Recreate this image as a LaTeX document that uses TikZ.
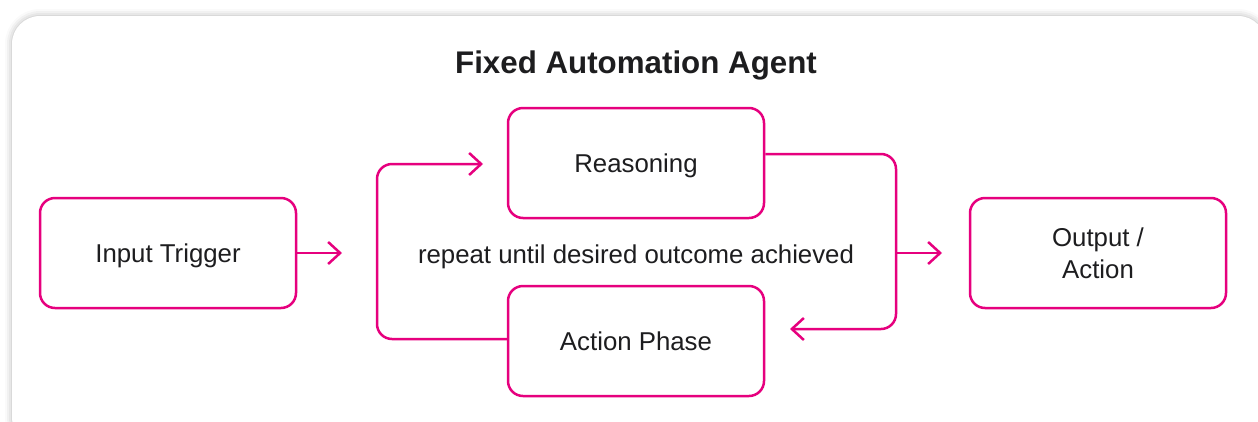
\documentclass[tikz,border=0pt]{standalone}
\usepackage{fontspec}
\setmainfont{Liberation Sans}
\usetikzlibrary{arrows.meta,shadows.blur}
\definecolor{mag}{RGB}{230,0,126}
\definecolor{ink}{RGB}{29,29,31}
\begin{document}
\begin{tikzpicture}[x=1pt,y=-1pt,
  box/.style={draw=mag, line width=2.5pt, rounded corners=15pt, minimum width=256pt, minimum height=110pt,
    inner sep=0pt, text=ink, font=\fontsize{25.8}{32}\selectfont, align=center},
  oneline/.style={text height=22pt, text depth=2.8pt},
  lbl/.style={text=ink, font=\fontsize{25.8}{32}\selectfont, inner sep=0pt},
  conn/.style={draw=mag, line width=2.5pt, rounded corners=15pt},
  tip/.style={-{Straight Barb[length=12pt,width=22pt]}}
]
\useasboundingbox (0,0) rectangle (1258,421);
\clip (0,0) rectangle (1258,421);
\fill[white, rounded corners=28pt, blur shadow={shadow xshift=0pt, shadow yshift=0pt, shadow blur radius=7pt, shadow opacity=30}] (12,16) rectangle (1266,445);

\node[anchor=base, text=ink, font=\fontsize{31.3}{36}\selectfont\bfseries, inner sep=0pt] (title) at (636,73) {Fixed Automation Agent};

\node[box, oneline] (in)  at (168,253) {Input Trigger};
\node[box, oneline] (rea) at (636,163) {Reasoning};
\node[box, oneline] (act) at (636,341) {Action Phase};
\node[box] (out) at (1098,253) {Output /\\Action};
\node[lbl, anchor=base] (rep) at (636,263) {repeat until desired outcome achieved};

\coordinate (inTip) at (342,253);
\coordinate (reaTip) at (483,164);
\coordinate (actTip) at (790,329);
\coordinate (outStart) at (896,253);
\coordinate (outTip) at (942,253);

\draw[conn, tip] (in.east) -- (inTip);
\draw[conn, tip] ([yshift=2pt]act.west) -- (377,339) -- (377,164) -- (reaTip);
\draw[conn, tip] ([yshift=9pt]rea.east) -- (896,154) -- (896,329) -- (actTip);
\draw[conn, tip] (outStart) -- (outTip);
\end{tikzpicture}
\end{document}
